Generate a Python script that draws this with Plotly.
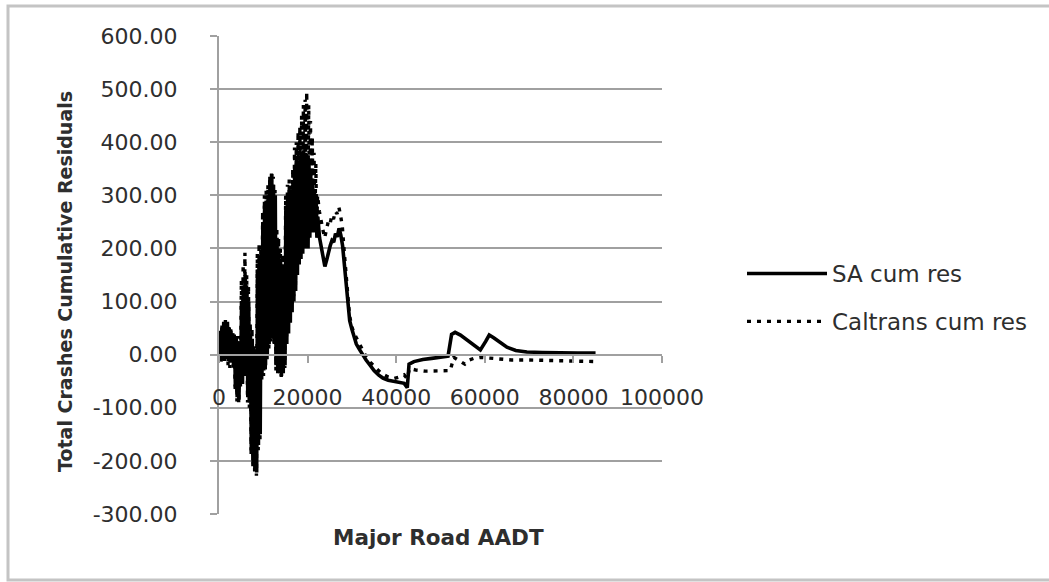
import plotly.graph_objects as go

# Cumulative residuals of total crashes, sorted by major road AADT
sa_aadt = [100, 300, 500, 700, 900, 1100, 1300, 1500, 1700, 1900,
           2100, 2300, 2500, 2700, 2900, 3100, 3300,
           3500, 3700, 3900, 4100, 4300, 4500, 4700,
           4900, 5100, 5300, 5500, 5700, 5900, 6100,
           6300, 6500, 6700, 6900,
           7100, 7300, 7500, 7700, 7900, 8100, 8300, 8500,
           8700, 8900, 9100, 9300, 9500,
           9700, 9900, 10100, 10300, 10500, 10700, 10900, 11100, 11300,
           11500, 11700, 11900, 12100, 12300, 12500, 12700,
           12900, 13100, 13300, 13500, 13700, 13900,
           14100, 14300, 14500, 14700, 14900,
           15100, 15300, 15500, 15700, 15900, 16100, 16300, 16500, 16700,
           16900, 17100, 17300, 17500, 17700, 17900, 18100, 18300,
           18500, 18700, 18900, 19100, 19300, 19500, 19700, 19900, 20100, 20300, 20500,
           20700, 20900, 21100, 21300, 21500, 21700, 21900, 22100,
           22300, 22700, 23100, 23500, 23900, 24300, 24700, 25100, 25500, 25900, 26300,
           26700, 27100, 27500, 27900,
           28300, 28700, 29100, 29500, 30000, 30500, 31000, 31700, 32400, 33200, 34100,
           35000, 36000, 37000, 38200, 39500, 40800, 41800, 42500, 42900, 44000, 46000,
           48000, 50000, 51700, 52500, 53300, 54500, 56000, 57500, 59000, 60200, 61000,
           62000, 63500, 65000, 67000, 69500, 73000, 77000, 81000, 85000]
sa_res = [-5, 45, -10, 55, 0, 60, -8, 58, 5, 62,
          -12, 50, -15, 45, -10, 40, -20,
          30, -60, 35, -80, 20, -85, 25,
          -50, 100, -55, 130, -30, 150, -40,
          120, -80, 100, -90,
          40, -180, 30, -205, 10, -215, 0, -222,
          160, -170, 180, -150, 170,
          -40, 250, -30, 280, -20, 290, 0, 300, 20,
          335, 30, 340, 40, 320, 20, 300,
          -20, 220, -30, 200, -35, 180,
          -40, 170, -35, 160, -20,
          280, 20, 300, 40, 310, 60, 300, 80, 320,
          100, 350, 120, 360, 150, 365, 170, 370,
          180, 380, 190, 385, 200, 380, 210, 375, 200, 365, 220,
          340, 230, 320, 240, 310, 230, 290, 220,
          260, 220, 200, 180, 166, 178, 195, 205, 215, 212, 228,
          222, 238, 225, 205,
          168, 128, 88, 64, 48, 32, 20, 10, 0, -10, -20,
          -30, -38, -44, -48, -50, -52, -54, -62, -18, -13, -9,
          -7, -5, -3, 38, 42, 37, 28, 18, 9, 25, 37,
          32, 22, 14, 8, 5, 4, 3, 3, 3]

cal_aadt = [50, 250, 450, 650, 850, 1050, 1250, 1450, 1650, 1850,
            2050, 2250, 2450, 2650, 2850, 3050, 3250,
            3450, 3650, 3850, 4050, 4250, 4450, 4650,
            4850, 5050, 5250, 5450, 5650, 5850, 6050,
            6250, 6450, 6650, 6850,
            7050, 7250, 7450, 7650, 7850, 8050, 8250, 8450,
            8650, 8850, 9050, 9250, 9450,
            9650, 9850, 10050, 10250, 10450, 10650, 10850, 11050, 11250,
            11450, 11650, 11850, 12050, 12250, 12450, 12650,
            12850, 13050, 13250, 13450, 13650, 13850,
            14050, 14250, 14450, 14650, 14850,
            15050, 15250, 15450, 15650, 15850, 16050, 16250, 16450, 16650,
            16850, 17050, 17250, 17450, 17650, 17850, 18050, 18250,
            18450, 18650, 18850, 19050, 19250, 19450, 19650, 19800, 20000, 20250, 20450,
            20650, 20850, 21050, 21250, 21450, 21650, 21850, 22050,
            22250, 22650, 23050, 23450, 23850, 24250, 24650, 25050, 25450, 25850, 26250,
            26650, 27050, 27450, 27850,
            28250, 28650, 29050, 29450, 29900, 30400, 31000, 31700, 32400, 33200, 34100,
            35000, 36000, 37000, 38200, 39500, 40800, 41800, 42500, 43000, 44500, 46500,
            48500, 50500, 52200, 53000, 54500, 55500, 56500, 57500, 59000, 61000, 63000,
            66000, 70000, 74000, 78000, 82000, 85000]
cal_res = [-10, 40, -18, 55, -5, 62, -12, 66, 0, 60,
           -20, 52, -25, 48, -18, 42, -25,
           40, -70, 30, -88, 25, -92, 35,
           -60, 140, -50, 170, -20, 192, -30,
           150, -90, 130, -100,
           60, -190, 50, -210, 20, -220, 10, -228,
           190, -180, 210, -160, 200,
           -50, 270, -40, 300, -30, 310, -10, 320, 10,
           330, 25, 342, 35, 335, 20, 310,
           -30, 240, -35, 220, -40, 200,
           -42, 190, -38, 180, -25,
           300, 30, 320, 50, 330, 70, 320, 90, 350,
           110, 390, 130, 400, 160, 420, 180, 430,
           190, 450, 200, 470, 210, 480, 220, 495, 230, 470, 240,
           440, 250, 410, 260, 380, 250, 360, 240,
           300, 270, 250, 235, 220, 235, 250, 245, 262, 255, 270,
           265, 278, 262, 240,
           195, 150, 105, 75, 55, 42, 32, 20, 8, -4, -14,
           -22, -30, -37, -42, -45, -42, -38, -45, -26, -29, -31,
           -31, -31, -30, -5, -12, -18, -10, -7, -5, -6, -8,
           -10, -10, -11, -12, -12, -13]

x_ticks = [0, 20000, 40000, 60000, 80000, 100000]
y_ticks = [-300, -200, -100, 0, 100, 200, 300, 400, 500, 600]
y_tick_text = ["-300.00", "-200.00", "-100.00", "0.00", "100.00", "200.00",
               "300.00", "400.00", "500.00", "600.00"]

GRID = "#a0a0a0"
INK = "#2e2e2e"
FONT = "DejaVu Sans"

fig = go.Figure()
fig.add_trace(go.Scatter(
    x=sa_aadt, y=sa_res, mode="lines", name="SA cum res", legendgroup="sa",
    line=dict(color="black", width=3.6),
))
fig.add_trace(go.Scatter(
    x=cal_aadt, y=cal_res, mode="lines", name="Caltrans cum res", legendgroup="cal",
    line=dict(color="black", width=3.4, dash="4px,6px"),
))

# plot area in pixels: left 219, right 662, top 36, bottom 514
L, R, T, B = 219, 662, 36, 514
W, H = 1049, 582


def px_x(p):
    return (p - L) / (R - L)


def px_y(p):
    return (B - p) / (B - T)


fig.update_layout(
    width=W, height=H,
    margin=dict(l=L, r=W - R, t=T, b=H - B, pad=0),
    paper_bgcolor="white", plot_bgcolor="white",
    font=dict(family=FONT, size=22, color=INK),
    showlegend=True,
    legend=dict(
        x=px_x(742), y=px_y(252), xanchor="left", yanchor="top",
        font=dict(family=FONT, size=23, color=INK),
        bgcolor="rgba(0,0,0,0)", tracegroupgap=15, itemwidth=80,
    ),
    xaxis=dict(
        range=[0, 100000], tickvals=x_ticks, tickformat="d",
        showgrid=False, zeroline=False,
        showline=True, linecolor=GRID, linewidth=2,
        ticks="outside", ticklen=7, tickcolor=GRID, tickwidth=2,
        ticklabelstandoff=16,
        anchor="free", position=300 / 900,
        tickfont=dict(family=FONT, size=22, color=INK),
    ),
    yaxis=dict(
        range=[-300, 600], tickvals=y_ticks, ticktext=y_tick_text,
        showgrid=True, gridcolor=GRID, gridwidth=2,
        zeroline=False,
        showline=True, linecolor=GRID, linewidth=2,
        ticks="outside", ticklen=7, tickcolor=GRID, tickwidth=2,
        ticklabelstandoff=28,
        tickfont=dict(family=FONT, size=22, color=INK),
    ),
    annotations=[
        dict(text="<b>Major Road AADT</b>", x=px_x(438), y=px_y(537),
             xref="paper", yref="paper", showarrow=False,
             xanchor="center", yanchor="middle",
             font=dict(family=FONT, size=21.5, color=INK)),
        dict(text="<b>Total Crashes Cumulative Residuals</b>", x=px_x(65), y=px_y(282),
             xref="paper", yref="paper", showarrow=False, textangle=-90,
             xanchor="center", yanchor="middle",
             font=dict(family=FONT, size=19, color=INK)),
    ],
    shapes=[
        dict(type="rect", xref="paper", yref="paper",
             x0=px_x(8), x1=px_x(1054), y0=px_y(580), y1=px_y(6),
             line=dict(color="#c4c4c4", width=3), fillcolor="rgba(0,0,0,0)", layer="below"),
    ],
)

fig.write_html("out.html")
